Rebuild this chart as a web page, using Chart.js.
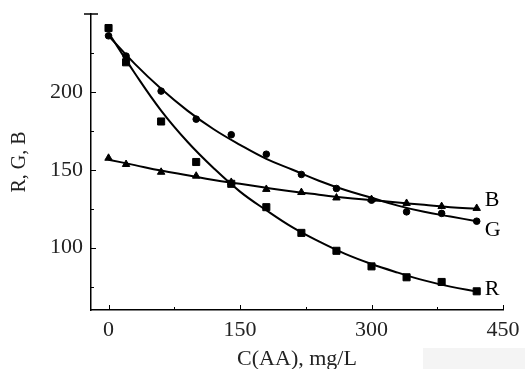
<!DOCTYPE html>
<html lang="en">
<head>
  <meta charset="UTF-8">
  <title>R, G, B vs C(AA)</title>
  <script src="https://cdn.jsdelivr.net/npm/chart.js"></script>
  <style>
    body { margin: 0; background: #fff; }
    #wrap { position: relative; width: 525px; height: 369px; }
    #shade { position: absolute; left: 423px; top: 348px; width: 102px; height: 21px; background: #f4f4f4; }
    canvas { position: absolute; left: 0; top: 0; }
  </style>
</head>
<body>
  <div id="wrap">
    <div id="shade"></div>
    <canvas id="rgbChart" width="525" height="369"></canvas>
  </div>

  <script>
    // measured points (mg/L)
    const conc = [0, 20, 60, 100, 140, 180, 220, 260, 300, 340, 380, 420];
    const rVals = [241, 219, 181, 155, 141, 126, 109.5, 98, 88, 81, 78, 72];
    const gVals = [236, 223, 200.5, 182.5, 172.5, 160, 147, 138, 130.5, 123, 122, 117];
    const bVals = [157.5, 153.5, 148.5, 146, 142, 137.5, 135.5, 132, 131, 128.5, 126.5, 125.3];

    // fitted curves
    const fitX = [0, 30, 60, 90, 120, 150, 180, 210, 240, 270, 300, 330, 360, 390, 420];
    const rFit = [238, 212, 188, 168, 151, 136, 124, 113, 104, 96, 89.5, 84, 79, 75, 72];
    const gFit = [236, 218, 202, 188, 176, 166, 157, 150, 143, 137, 132, 127, 123, 120, 117];
    const bFit = [156.5, 153, 149.5, 146.5, 143.5, 141, 138.5, 136, 134, 132, 130.5, 129, 127.5, 126, 125];

    const xTicks = [0, 150, 300, 450];
    const xMinor = [75, 225, 375];
    const yTicks = [100, 150, 200];
    const yMinor = [75, 125, 175, 225];
    const seriesNames = ['R', 'G', 'B'];

    const serif = '"Liberation Serif", "Times New Roman", serif';
    const pts = (xs, ys) => xs.map((x, i) => ({ x: x, y: ys[i] }));

    // inside tick marks, top cap and the R/G/B end labels
    const decorations = {
      id: 'decorations',
      afterDraw(chart) {
        const ctx = chart.ctx;
        const xs = chart.scales.x, ys = chart.scales.y;
        const area = chart.chartArea;
        ctx.save();
        ctx.strokeStyle = '#000';
        ctx.lineWidth = 1;
        ctx.beginPath();
        xTicks.forEach(v => { const p = Math.round(xs.getPixelForValue(v)) + 0.5; ctx.moveTo(p, area.bottom); ctx.lineTo(p, area.bottom - 5); });
        xMinor.forEach(v => { const p = Math.round(xs.getPixelForValue(v)) + 0.5; ctx.moveTo(p, area.bottom); ctx.lineTo(p, area.bottom - 3); });
        yTicks.forEach(v => { const p = Math.round(ys.getPixelForValue(v)) + 0.5; ctx.moveTo(area.left, p); ctx.lineTo(area.left + 5, p); });
        yMinor.forEach(v => { const p = Math.round(ys.getPixelForValue(v)) + 0.5; ctx.moveTo(area.left, p); ctx.lineTo(area.left + 3, p); });
        ctx.stroke();
        // top cap on the y axis
        ctx.lineWidth = 1.5;
        ctx.beginPath();
        ctx.moveTo(area.left - 7, area.top);
        ctx.lineTo(area.left + 7, area.top);
        ctx.stroke();

        ctx.fillStyle = '#000';
        ctx.font = '22px ' + serif;
        ctx.textBaseline = 'middle';
        ctx.textAlign = 'left';
        const lastX = xs.getPixelForValue(conc[conc.length - 1]) + 8;
        const ends = [rVals, gVals, bVals];
        const shifts = [-2, 9, -8];
        seriesNames.forEach((name, i) => {
          const arr = ends[i];
          ctx.fillText(name, lastX, ys.getPixelForValue(arr[arr.length - 1]) + shifts[i]);
        });
        ctx.restore();
      }
    };

    const ctx = document.getElementById('rgbChart').getContext('2d');
    new Chart(ctx, {
      type: 'scatter',
      data: {
        datasets: [
          { type: 'line', data: pts(fitX, rFit), borderColor: '#000', borderWidth: 2, pointRadius: 0, tension: 0.4, fill: false },
          { type: 'line', data: pts(fitX, gFit), borderColor: '#000', borderWidth: 2, pointRadius: 0, tension: 0.4, fill: false },
          { type: 'line', data: pts(fitX, bFit), borderColor: '#000', borderWidth: 2, pointRadius: 0, tension: 0.4, fill: false },
          { label: 'R', data: pts(conc, rVals), pointStyle: 'rect', pointRadius: 5, backgroundColor: '#000', borderColor: '#000' },
          { label: 'G', data: pts(conc, gVals), pointStyle: 'circle', pointRadius: 3.3, backgroundColor: '#000', borderColor: '#000' },
          { label: 'B', data: pts(conc, bVals), pointStyle: 'triangle', pointRadius: 4.3, backgroundColor: '#000', borderColor: '#000' }
        ]
      },
      options: {
        responsive: false,
        animation: false,
        layout: { autoPadding: false, padding: { top: 14, right: 22, left: 0, bottom: 0 } },
        plugins: { legend: { display: false }, tooltip: { enabled: false } },
        scales: {
          x: {
            type: 'linear',
            min: -20,
            max: 450,
            afterBuildTicks: s => { s.ticks = xTicks.map(v => ({ value: v })); },
            afterFit: s => { s.height = 59; },
            grid: { display: false },
            border: { display: true, color: '#000', width: 1.5 },
            ticks: { color: '#222', padding: -1, maxRotation: 0, font: { family: serif, size: 22 } },
            title: { display: true, text: 'C(AA), mg/L', color: '#222', padding: { top: 0, bottom: -3 }, font: { family: serif, size: 22 } }
          },
          y: {
            min: 60,
            max: 250,
            afterBuildTicks: s => { s.ticks = yTicks.map(v => ({ value: v })); },
            afterFit: s => { s.width = 91; },
            grid: { display: false },
            border: { display: true, color: '#000', width: 1.5 },
            ticks: { color: '#222', padding: 0, font: { family: serif, size: 22 } },
            title: { display: true, text: 'R, G, B', color: '#222', padding: { top: 8, bottom: 8 }, font: { family: serif, size: 20 } }
          }
        }
      },
      plugins: [decorations]
    });
  </script>
</body>
</html>
